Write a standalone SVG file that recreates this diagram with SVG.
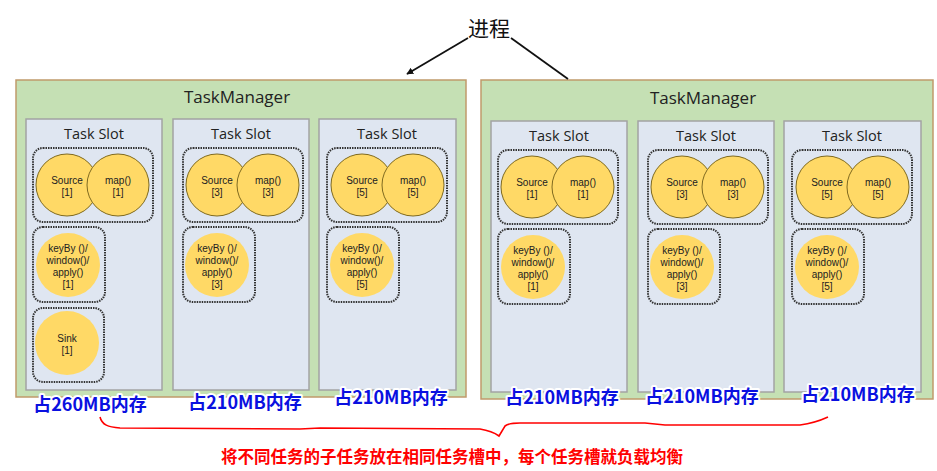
<svg xmlns="http://www.w3.org/2000/svg" width="937" height="471" viewBox="0 0 937 471">
<defs>
<style>
.tm{fill:#c5e0b4;stroke:#c09a6b;stroke-width:1.5}
.slot{fill:#dfe6f1;stroke:#a3a3a3;stroke-width:1.5}
.grp{fill:none;stroke:#333;stroke-width:2;stroke-dasharray:1.5 1}
.op{fill:#ffd966;stroke:#7f6a1f;stroke-width:1}
.op2{fill:#ffd966}
.t{font-family:"Open Sans","Noto Sans",sans-serif;fill:#222;text-anchor:middle}
.tmt{font-size:17px}
.st{font-size:14.5px}
.ot{font-family:"Liberation Sans",Arial,sans-serif;font-size:10px}
.mem{font-family:"Noto Sans CJK SC","Noto Sans",sans-serif;font-weight:bold;font-size:18px;fill:#0a10e0;stroke:#fff;stroke-width:4;paint-order:stroke;stroke-linejoin:round;text-anchor:middle}
.red{font-family:"Noto Sans CJK SC",sans-serif;font-weight:bold;font-size:16.5px;fill:#ff0000;text-anchor:middle}
</style>
<marker id="ah" viewBox="0 0 10 10" refX="9" refY="5" markerWidth="7" markerHeight="7" orient="auto-start-reverse" markerUnits="userSpaceOnUse">
<path d="M0,0 L10,5 L0,10 z" fill="#111"/>
</marker>
</defs>

<g id="process">
<text x="489" y="36" font-family="Noto Sans CJK SC,sans-serif" font-size="21" fill="#111" text-anchor="middle">进程</text>
</g>

<g id="tm-left">
<rect class="tm" x="16" y="80" width="450" height="317"/>
<text class="t tmt" x="237" y="103">TaskManager</text>
</g>
<g id="tm-right">
<rect class="tm" x="481" y="80" width="452" height="319"/>
<text class="t tmt" x="703" y="104">TaskManager</text>
</g>

<!-- Left slots -->
<g id="slot-l1">
<rect class="slot" x="26" y="119" width="136" height="271"/>
<text class="t st" x="94" y="139">Task Slot</text>
<rect class="grp" x="33" y="148" width="120" height="74" rx="10"/>
<circle class="op" cx="67" cy="185" r="31"/>
<circle class="op" cx="118" cy="185" r="31"/>
<text class="t ot" x="67" y="184">Source</text><text class="t ot" x="67" y="196">[1]</text>
<text class="t ot" x="118" y="184">map()</text><text class="t ot" x="118" y="196">[1]</text>
<rect class="grp" x="33" y="227" width="72" height="75" rx="10"/>
<circle class="op2" cx="68" cy="265" r="32"/>
<text class="t ot" x="68" y="252">keyBy ()/</text><text class="t ot" x="68" y="264">window()/</text><text class="t ot" x="68" y="276">apply()</text><text class="t ot" x="68" y="288">[1]</text>
<rect class="grp" x="33" y="308" width="71" height="74" rx="10"/>
<circle class="op2" cx="67" cy="343" r="32"/>
<text class="t ot" x="67" y="342">Sink</text><text class="t ot" x="67" y="354">[1]</text>
</g>

<g id="slot-l2">
<rect class="slot" x="173" y="119" width="136" height="271"/>
<text class="t st" x="241" y="139">Task Slot</text>
<rect class="grp" x="183" y="148" width="120" height="74" rx="10"/>
<circle class="op" cx="217" cy="185" r="31"/>
<circle class="op" cx="268" cy="185" r="31"/>
<text class="t ot" x="217" y="184">Source</text><text class="t ot" x="217" y="196">[3]</text>
<text class="t ot" x="268" y="184">map()</text><text class="t ot" x="268" y="196">[3]</text>
<rect class="grp" x="183" y="227" width="72" height="75" rx="10"/>
<circle class="op2" cx="217" cy="265" r="32"/>
<text class="t ot" x="217" y="252">keyBy ()/</text><text class="t ot" x="217" y="264">window()/</text><text class="t ot" x="217" y="276">apply()</text><text class="t ot" x="217" y="288">[3]</text>
</g>

<g id="slot-l3">
<rect class="slot" x="319" y="119" width="137" height="271"/>
<text class="t st" x="387" y="139">Task Slot</text>
<rect class="grp" x="327" y="148" width="120" height="74" rx="10"/>
<circle class="op" cx="362" cy="185" r="31"/>
<circle class="op" cx="413" cy="185" r="31"/>
<text class="t ot" x="362" y="184">Source</text><text class="t ot" x="362" y="196">[5]</text>
<text class="t ot" x="413" y="184">map()</text><text class="t ot" x="413" y="196">[5]</text>
<rect class="grp" x="327" y="227" width="72" height="75" rx="10"/>
<circle class="op2" cx="362" cy="265" r="32"/>
<text class="t ot" x="362" y="252">keyBy ()/</text><text class="t ot" x="362" y="264">window()/</text><text class="t ot" x="362" y="276">apply()</text><text class="t ot" x="362" y="288">[5]</text>
</g>

<!-- Right slots -->
<g id="slot-r1">
<rect class="slot" x="491" y="121" width="136" height="271"/>
<text class="t st" x="559" y="141">Task Slot</text>
<rect class="grp" x="498" y="150" width="120" height="74" rx="10"/>
<circle class="op" cx="532" cy="187" r="31"/>
<circle class="op" cx="583" cy="187" r="31"/>
<text class="t ot" x="532" y="186">Source</text><text class="t ot" x="532" y="198">[1]</text>
<text class="t ot" x="583" y="186">map()</text><text class="t ot" x="583" y="198">[1]</text>
<rect class="grp" x="498" y="229" width="72" height="75" rx="10"/>
<circle class="op2" cx="533" cy="267" r="32"/>
<text class="t ot" x="533" y="254">keyBy ()/</text><text class="t ot" x="533" y="266">window()/</text><text class="t ot" x="533" y="278">apply()</text><text class="t ot" x="533" y="290">[1]</text>
</g>

<g id="slot-r2">
<rect class="slot" x="638" y="121" width="136" height="271"/>
<text class="t st" x="706" y="141">Task Slot</text>
<rect class="grp" x="648" y="150" width="120" height="74" rx="10"/>
<circle class="op" cx="682" cy="187" r="31"/>
<circle class="op" cx="733" cy="187" r="31"/>
<text class="t ot" x="682" y="186">Source</text><text class="t ot" x="682" y="198">[3]</text>
<text class="t ot" x="733" y="186">map()</text><text class="t ot" x="733" y="198">[3]</text>
<rect class="grp" x="648" y="229" width="72" height="75" rx="10"/>
<circle class="op2" cx="682" cy="267" r="32"/>
<text class="t ot" x="682" y="254">keyBy ()/</text><text class="t ot" x="682" y="266">window()/</text><text class="t ot" x="682" y="278">apply()</text><text class="t ot" x="682" y="290">[3]</text>
</g>

<g id="slot-r3">
<rect class="slot" x="784" y="121" width="137" height="271"/>
<text class="t st" x="852" y="141">Task Slot</text>
<rect class="grp" x="792" y="150" width="120" height="74" rx="10"/>
<circle class="op" cx="827" cy="187" r="31"/>
<circle class="op" cx="878" cy="187" r="31"/>
<text class="t ot" x="827" y="186">Source</text><text class="t ot" x="827" y="198">[5]</text>
<text class="t ot" x="878" y="186">map()</text><text class="t ot" x="878" y="198">[5]</text>
<rect class="grp" x="792" y="229" width="72" height="75" rx="10"/>
<circle class="op2" cx="827" cy="267" r="32"/>
<text class="t ot" x="827" y="254">keyBy ()/</text><text class="t ot" x="827" y="266">window()/</text><text class="t ot" x="827" y="278">apply()</text><text class="t ot" x="827" y="290">[5]</text>
</g>

<g id="memory-labels">
<text class="mem" x="90" y="411">占260MB内存</text>
<text class="mem" x="245" y="409">占210MB内存</text>
<text class="mem" x="391" y="404">占210MB内存</text>
<text class="mem" x="562" y="404">占210MB内存</text>
<text class="mem" x="702" y="403">占210MB内存</text>
<text class="mem" x="858" y="401">占210MB内存</text>
</g>

<g id="connectors">
<line x1="468" y1="38" x2="407" y2="74" stroke="#111" stroke-width="1.8" marker-end="url(#ah)"/>
<line x1="511" y1="38" x2="568" y2="79" stroke="#111" stroke-width="1.8"/>
<path d="M100,417 C102,425 108,427 120,428 L300,429 L320,428 L480,429 Q492,431 499,436 L505,426 Q509,423 520,423 L645,423 L665,425 L800,425 Q815,423 828,417" fill="none" stroke="#ff0000" stroke-width="1.6"/>
</g>

<g id="note">
<text class="red" x="452" y="463">将不同任务的子任务放在相同任务槽中，每个任务槽就负载均衡</text>
</g>
</svg>
